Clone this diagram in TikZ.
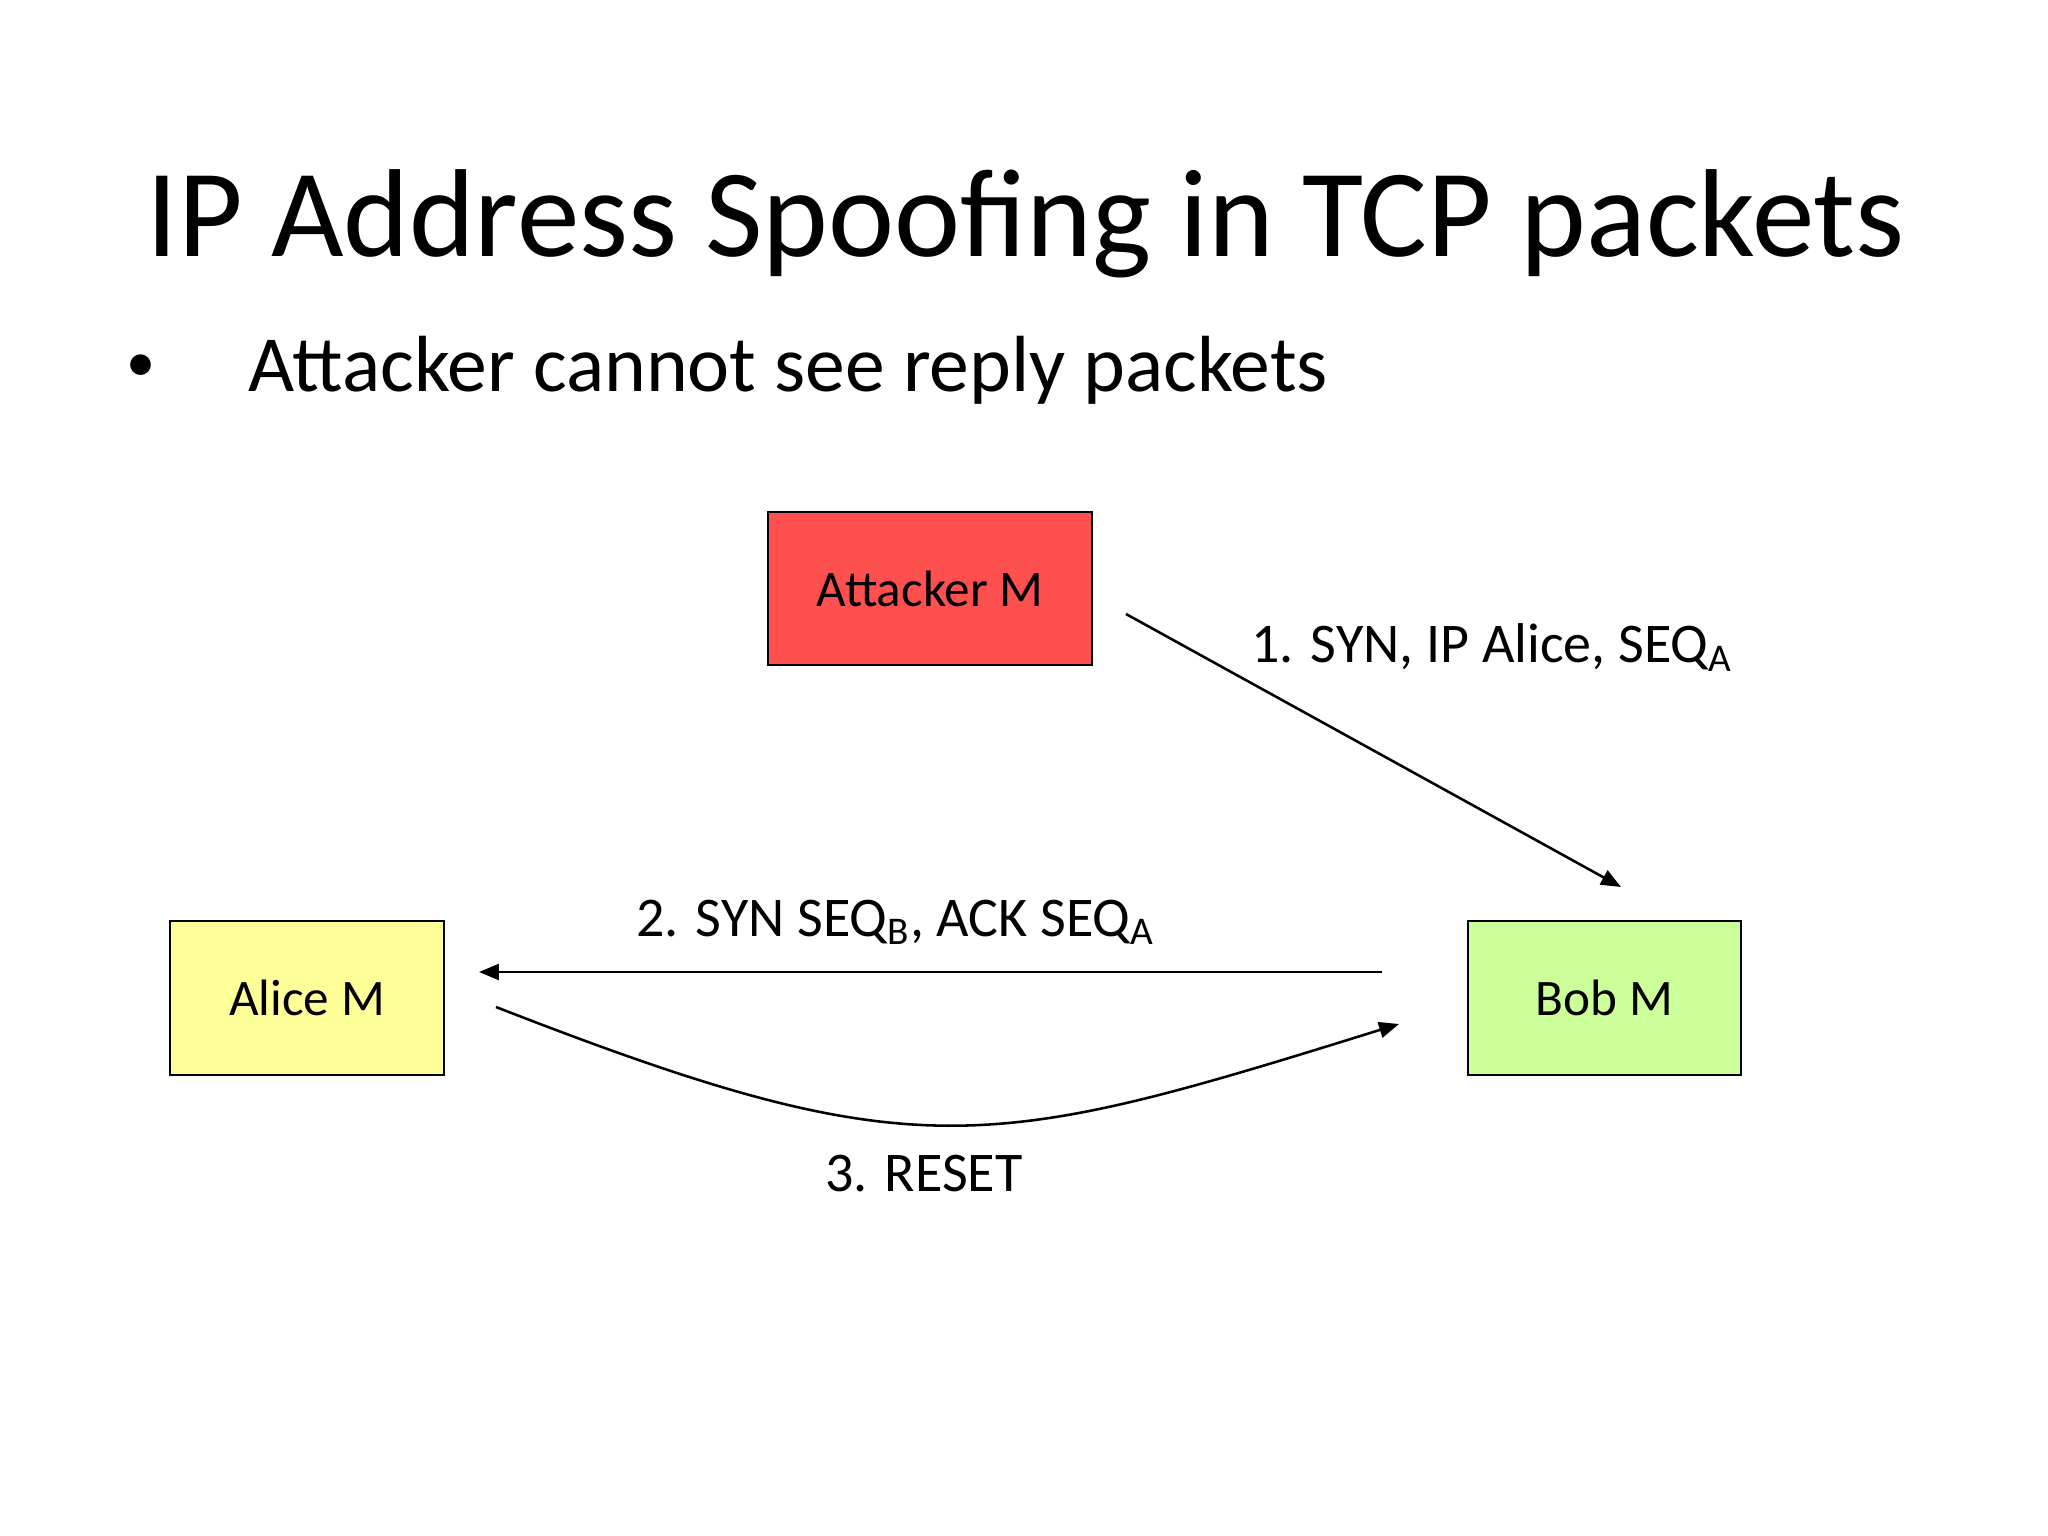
\documentclass[tikz,border=0pt]{standalone}
\usepackage{fontspec}
\setmainfont{Carlito}
\usetikzlibrary{arrows.meta}
\definecolor{attred}{RGB}{255,80,80}
\definecolor{aliceyel}{RGB}{255,255,153}
\definecolor{bobgreen}{RGB}{204,255,153}
\begin{document}
\begin{tikzpicture}[x=0.3515625pt,y=-0.3515625pt,
  box/.style={draw=black,line width=0.75pt,inner sep=0pt,font=\fontsize{18}{21}\selectfont},
  conn/.style={line width=0.9pt,-{Triangle[length=7pt,width=5.6pt]}},
  lbl/.style={font=\fontsize{19.7}{24}\selectfont,anchor=base west,inner sep=0pt},
  titletext/.style={font=\fontsize{44}{52}\selectfont,anchor=base west,inner sep=0pt},
  bullettext/.style={font=\fontsize{28}{34}\selectfont,anchor=base west,inner sep=0pt}]
\useasboundingbox[fill=white] (0,0) rectangle (2048,1536);
% title and bullet
\node[titletext] (title) at (146,257) {IP Address Spoofing in TCP packets};
\node[font=\fontsize{20.5}{24}\selectfont,inner sep=0pt] (bul) at (141,368) {•};
\node[bullettext] (btext) at (248,392) {Attacker cannot see reply packets};
% boxes
\node[box,fill=attred,minimum width=113.9pt,minimum height=53.8pt] (att) at (930,588.5) {Attacker M};
\node[box,fill=aliceyel,minimum width=96.3pt,minimum height=54.1pt] (alice) at (307,998) {Alice M};
\node[box,fill=bobgreen,minimum width=96.0pt,minimum height=54.1pt] (bob) at (1604.5,998) {Bob M};
% connector end points
\coordinate (a1s) at (1126,614);
\coordinate (a1e) at (1621,887);
\coordinate (a2s) at (1382,972);
\coordinate (a2e) at (479,972);
\coordinate (a3s) at (496,1007);
\coordinate (a3e) at (1399,1024);
\draw[conn] (a1s) -- (a1e);
\draw[conn] (a2s) -- (a2e);
\draw[conn] (a3s) .. controls (917,1171) and (987,1152) .. (a3e);
% labels
\node[lbl] (l1) at (1251,663) {1. SYN, IP Alice, SEQ\textsubscript{A}};
\node[lbl] (l2) at (636,936) {2. SYN SEQ\textsubscript{B}, ACK SEQ\textsubscript{A}};
\node[lbl] (l3) at (825,1191) {3. RESET};
\end{tikzpicture}
\end{document}
